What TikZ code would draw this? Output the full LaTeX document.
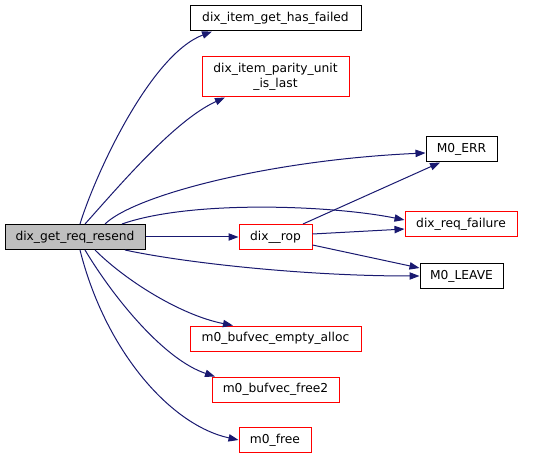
\documentclass[tikz,border=0pt]{standalone}
\usepackage{fontspec}
\setmainfont{DejaVu Sans}
\usetikzlibrary{arrows.meta}
\definecolor{edgeblue}{HTML}{191970}
\definecolor{mainfill}{HTML}{BFBFBF}
\tikzset{
  fn/.style={draw=black, line width=0.75pt, inner sep=0pt, minimum height=18.75pt, font=\fontsize{9.2pt}{11pt}\selectfont, align=center},
  redfn/.style={fn, draw=red},
  mainfn/.style={fn, fill=mainfill},
  call/.style={draw=edgeblue, line width=0.75pt, -{Triangle[length=7.5pt,width=5.5pt]}}
}
\begin{document}
\begin{tikzpicture}[x={(0.75pt,0)}, y={(0,-0.75pt)}]
\useasboundingbox (0,0) rectangle (556,459);
\node[mainfn, minimum width=105pt] (main) at (75,237) {dix\_get\_req\_resend};
\node[fn, minimum width=128.25pt] (failed) at (275.5,18.5) {dix\_item\_get\_has\_failed};
\node[redfn, minimum width=110.25pt, minimum height=30pt] (parity) at (275.5,77) {dix\_item\_parity\_unit\\\_is\_last};
\node[fn, minimum width=53.25pt] (err) at (461.5,149.5) {M0\_ERR};
\node[redfn, minimum width=84pt] (failure) at (461,224.5) {dix\_req\_failure};
\node[redfn, minimum width=54.75pt] (rop) at (275.5,237) {dix\_\_rop};
\node[fn, minimum width=62.25pt] (leave) at (461.5,276) {M0\_LEAVE};
\node[redfn, minimum width=128.25pt] (alloc) at (275.5,338.5) {m0\_bufvec\_empty\_alloc};
\node[redfn, minimum width=95.25pt] (free2) at (275.5,389.5) {m0\_bufvec\_free2};
\node[redfn, minimum width=54pt] (free) at (275,440) {m0\_free};

\draw[call] ([xshift=3.75pt]main.north) .. controls (95,175) and (150,55) .. ([xshift=-47.6pt]failed.south);
\draw[call] ([xshift=7.5pt]main.north) .. controls (120,185) and (175,120) .. ([xshift=-37.9pt]parity.south);
\draw[call] ([xshift=22.5pt]main.north) .. controls (135,195) and (270,160) .. ([yshift=-2.6pt]err.west);
\draw[call] ([xshift=35.25pt]main.north) .. controls (190,200) and (330,205) .. ([yshift=3.4pt]failure.west);
\draw[call] (main.east) -- (rop.west);
\draw[call] ([xshift=37.5pt]main.south) .. controls (180,262) and (300,276) .. (leave.west);
\draw[call] ([xshift=15pt]main.south) .. controls (125,280) and (180,315) .. ([xshift=-31.9pt]alloc.north);
\draw[call] ([xshift=7.5pt]main.south) .. controls (115,300) and (165,360) .. ([xshift=-45.4pt]free2.north);
\draw[call] ([xshift=3.75pt]main.south) .. controls (105,350) and (170,425) .. (free.west);
\draw[call] ([xshift=20.6pt]rop.north) -- ([xshift=-16.1pt]err.south);
\draw[call] ([yshift=2.25pt]rop.east) -- ([yshift=-3.4pt]failure.west);
\draw[call] ([yshift=-6pt]rop.east) -- ([yshift=6pt]leave.west);
\end{tikzpicture}
\end{document}
